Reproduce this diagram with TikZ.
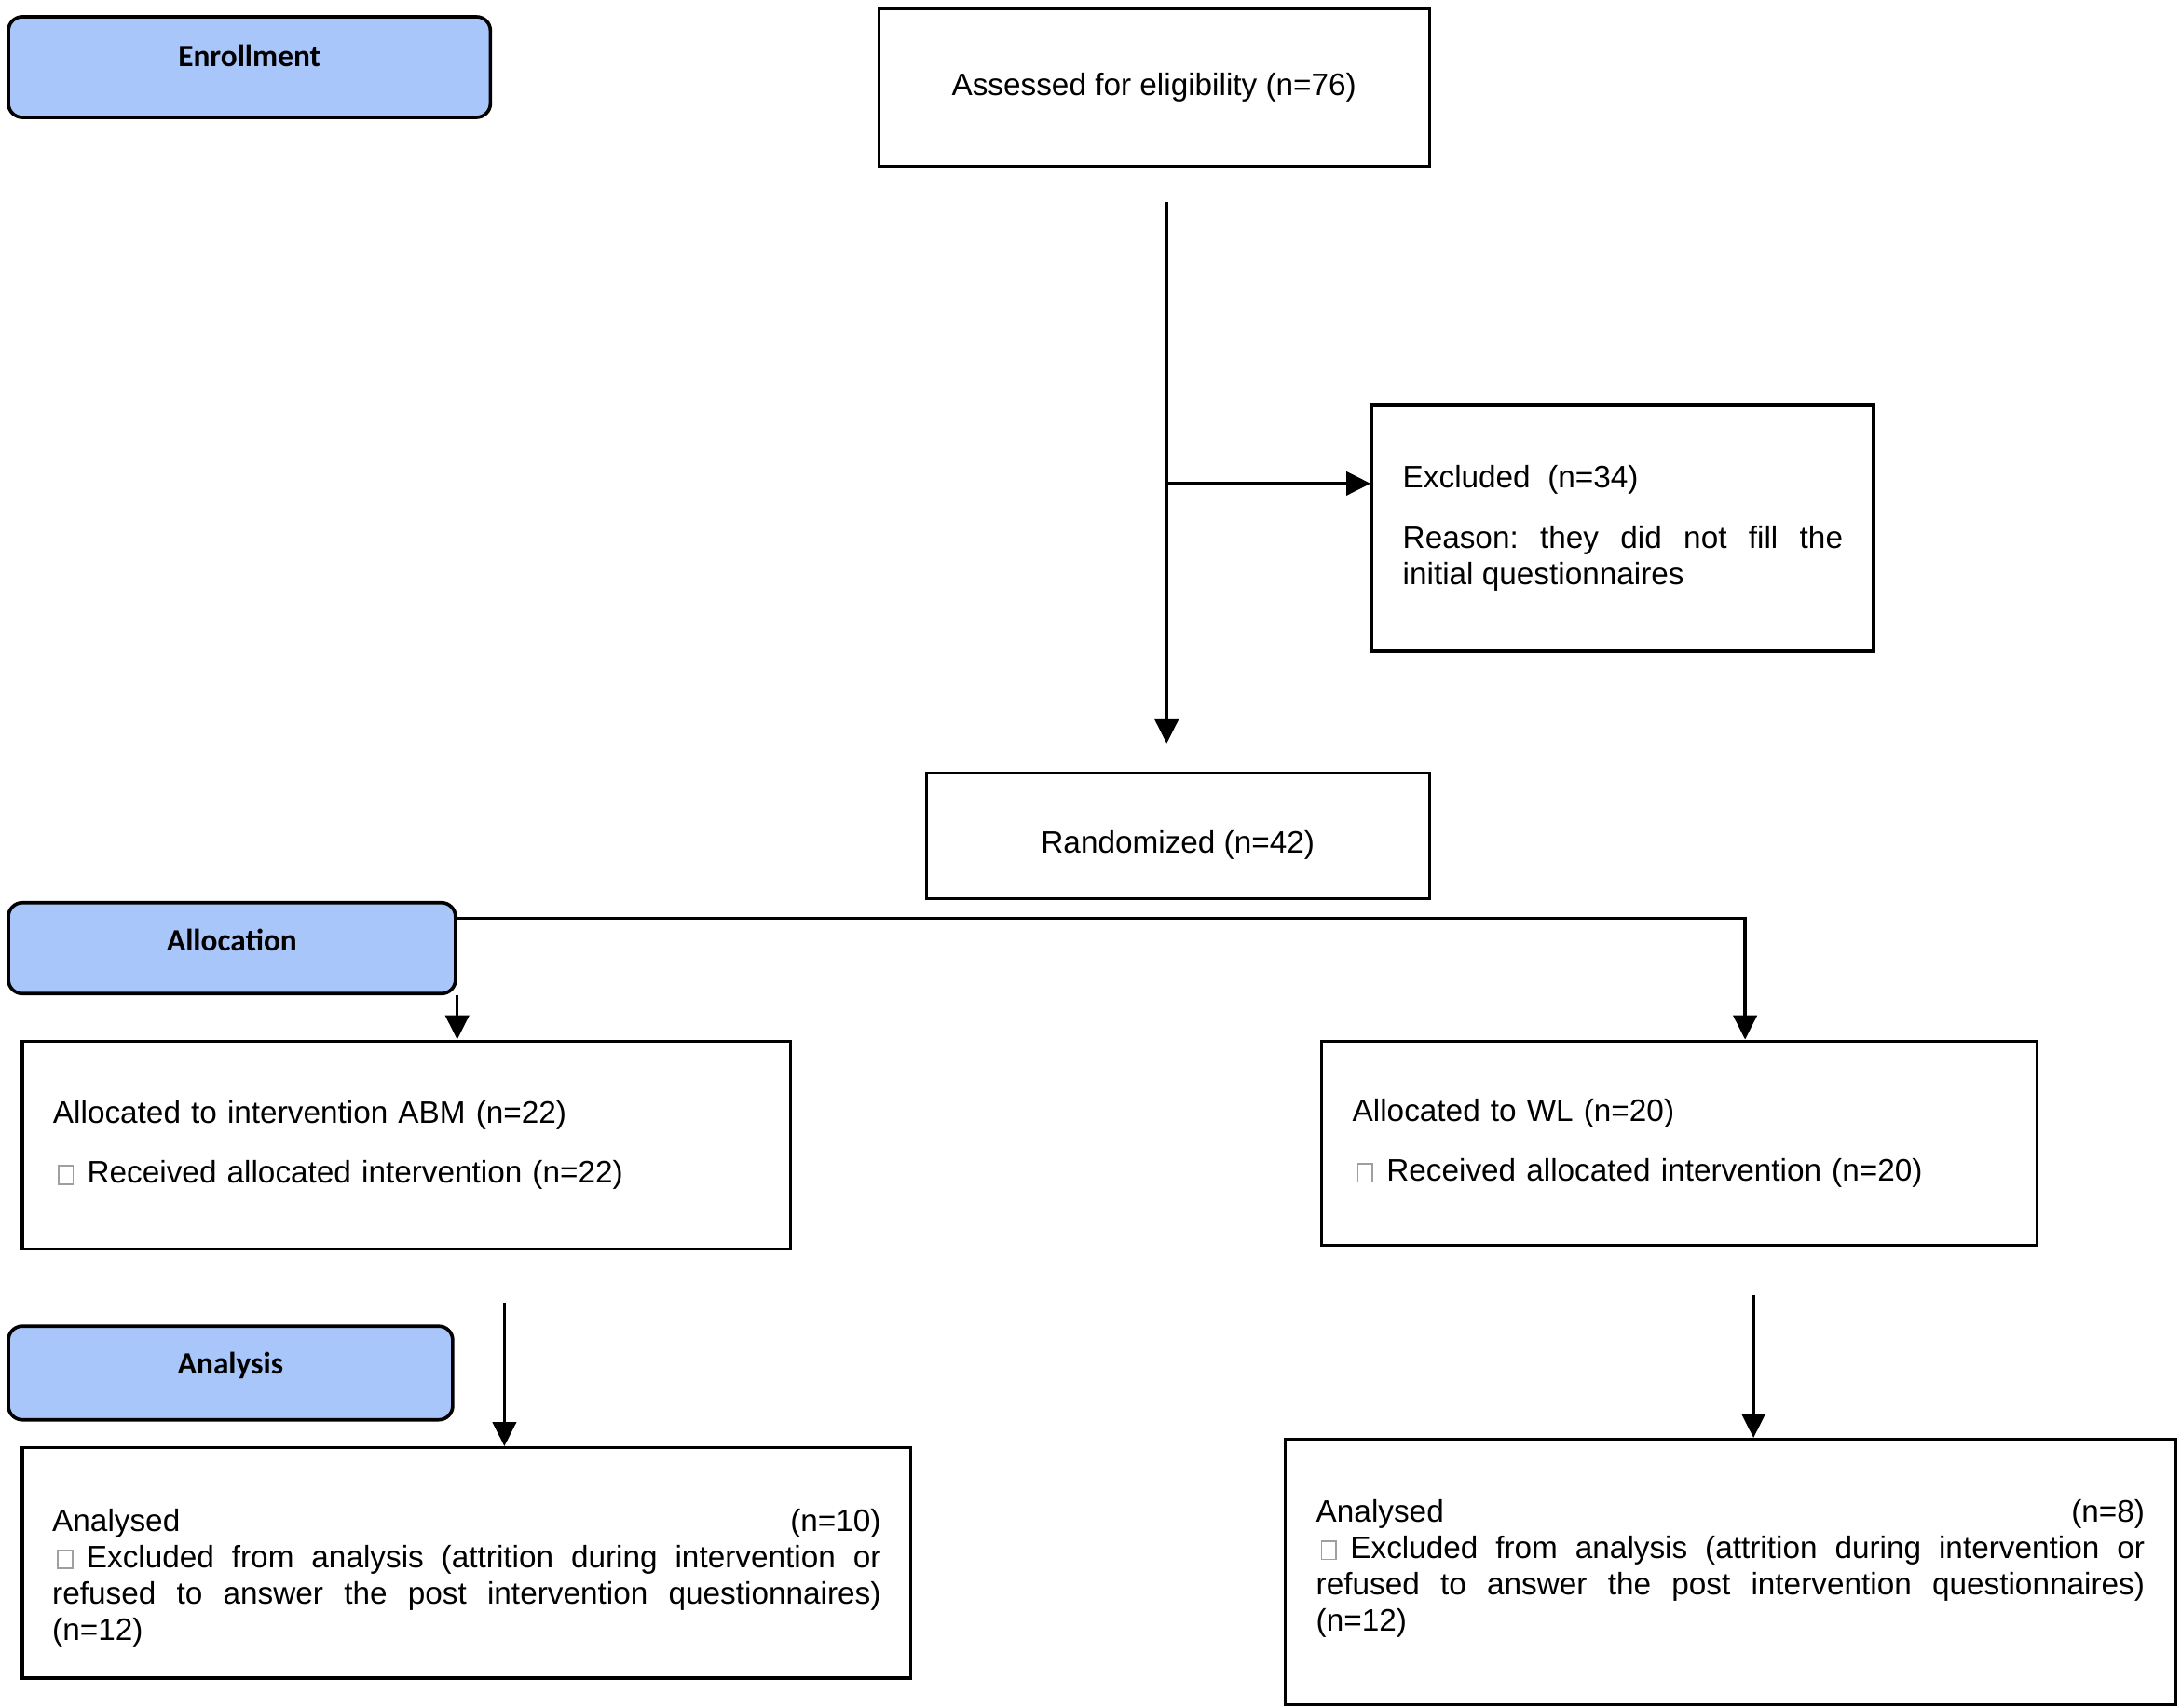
\documentclass[tikz,border=0pt]{standalone}
\usepackage{fontspec}
\setmainfont{Liberation Sans}
\newfontfamily\hdrfont{Carlito}
\usetikzlibrary{arrows.meta}
\definecolor{hdrblue}{RGB}{168,198,250}
\newcommand\missbox{\hspace*{1.5pt}{\color{gray!75}\setlength{\fboxrule}{0.5pt}\setlength{\fboxsep}{0pt}\fbox{\rule{0pt}{5.4pt}\rule{4.2pt}{0pt}}}\hspace{4.3pt}}
\begin{document}
\begin{tikzpicture}[x=0.45pt,y=-0.45pt,
 box/.style={draw, line width=1pt, inner sep=0pt, font=\fontsize{10}{11.7}\selectfont\frenchspacing},
 hdr/.style={draw, line width=1.1pt, fill=hdrblue, rounded corners=4.5pt, inner sep=0pt, font=\hdrfont\bfseries\fontsize{10}{12}\selectfont},
 conn/.style={line width=1pt, -{Triangle[length=7.8pt,width=7.6pt]}}]
\useasboundingbox (0,0) rectangle (1561,1222);

% stage headers
\node[hdr, minimum width=155.25pt, minimum height=32.4pt] (enroll) at (178.5,48) {\raisebox{3.6pt}[\height][\depth]{Enrollment}};
\node[hdr, minimum width=144pt, minimum height=29.25pt] (alloc) at (166,678.5) {\raisebox{2.5pt}[\height][\depth]{Allocation}};
\node[hdr, minimum width=143.1pt, minimum height=30.15pt] (analysis) at (165,982.5) {\raisebox{2.5pt}[\height][\depth]{Analysis}};

% boxes
\node[box, minimum width=177.3pt, minimum height=50.85pt] (assess) at (826,62.5) {Assessed for eligibility (n=76)};
\node[box, minimum width=161.55pt, minimum height=79.2pt, text width=141.75pt, align=justify] (excl) at (1161.5,378)
 {Excluded\ \ (n=34)\\[7.65pt]Reason: they did not fill the\linebreak initial questionnaires};
\node[box, minimum width=162pt, minimum height=40.5pt] (rand) at (843,598) {\raisebox{-3.15pt}[\height][\depth]{Randomized (n=42)}};
\node[box, minimum width=247.5pt, minimum height=67.05pt, text width=227.7pt, align=left] (abm) at (291,819.5)
 {Allocated to intervention ABM (n=22)\\[7.65pt]\missbox Received allocated intervention (n=22)};
\node[box, minimum width=230.4pt, minimum height=65.7pt, text width=210.6pt, align=left] (wl) at (1202,818)
 {Allocated to WL (n=20)\\[7.65pt]\missbox Received allocated intervention (n=20)};
\node[box, minimum width=286.2pt, minimum height=74.25pt] (an1) at (334,1118.5)
 {\raisebox{-4.7pt}[\height][\depth]{\parbox{266.85pt}{Analysed\hfill(n=10)\linebreak\missbox Excluded from analysis (attrition during intervention or\linebreak refused to answer the post intervention questionnaires)\linebreak (n=12)}}};
\node[box, minimum width=286.65pt, minimum height=85.5pt] (an2) at (1238.5,1125)
 {\raisebox{1.1pt}[\height][\depth]{\parbox{266.85pt}{Analysed\hfill(n=8)\linebreak\missbox Excluded from analysis (attrition during intervention or\linebreak refused to answer the post intervention questionnaires)\linebreak (n=12)}}};

% connectors
\coordinate (t1) at (835,145);
\coordinate (t2) at (835,532);
\draw[conn] (t1) -- (t2);
\coordinate (b1) at (835,346);
\draw[conn] (b1) -- (b1 -| excl.west);
\coordinate (s1) at (326,657);
\coordinate (s2) at (1249,657);
\draw[conn] (s1) -- (s2) -- (s2 |- wl.north);
\draw[conn] (alloc.south east) -- (alloc.south east |- abm.north);
\coordinate (l1) at (361,932);
\draw[conn] (l1) -- (l1 |- an1.north);
\coordinate (r1) at (1255,927);
\draw[conn] (r1) -- (r1 |- an2.north);
\end{tikzpicture}
\end{document}
